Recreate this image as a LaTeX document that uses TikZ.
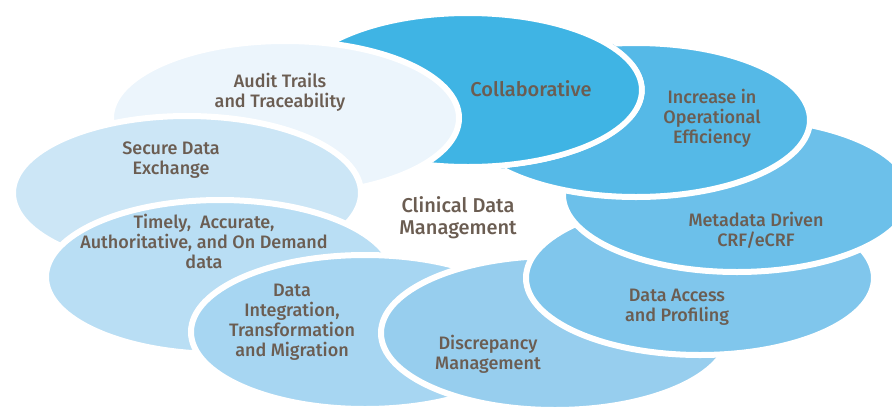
\documentclass[tikz,border=0pt]{standalone}
\usepackage{fontspec}
\setmainfont{Fira Sans}[UprightFont=* Medium]
\usetikzlibrary{shapes.geometric}

\definecolor{txtbrown}{HTML}{6B5D52}
\definecolor{cAudit}{HTML}{ECF5FC}
\definecolor{cSecure}{HTML}{CCE6F6}
\definecolor{cTimely}{HTML}{B9DEF4}
\definecolor{cInteg}{HTML}{A7D6F2}
\definecolor{cDiscr}{HTML}{97CEEE}
\definecolor{cAccess}{HTML}{80C6EC}
\definecolor{cMeta}{HTML}{6CC0EA}
\definecolor{cIncr}{HTML}{55B9E7}
\definecolor{cCollab}{HTML}{3FB4E4}

\tikzset{
  petal/.style={ellipse, inner sep=0pt, minimum width=348pt, minimum height=154pt,
    draw=white, line width=6pt, fill=#1},
  lbl/.style={align=center, text=txtbrown, font=\fontsize{18}{20}\selectfont}
}

\begin{document}
\begin{tikzpicture}[x=1pt, y=-1pt]
  \useasboundingbox (0,0) rectangle (892,408);

  % petals, each one above its clockwise neighbour
  \node [petal=cIncr](incr) at (636,120) {};
  \node [petal=cCollab](collab) at (468,90) {};
  \node [petal=cAudit](audit) at (285,118) {};
  \node [petal=cSecure](secure) at (187,193) {};
  \node [petal=cTimely](timely) at (220,277) {};
  \node [petal=cInteg](integ) at (365,332) {};
  \node [petal=cDiscr](discr) at (555,333) {};
  \node [petal=cAccess](access) at (700,278) {};
  \node [petal=cMeta](meta) at (737,195) {};
  % close the ring: increase over metadata, outside collaborative
  \begin{scope}[even odd rule]
    \clip (0,0) rectangle (892,408)
      (collab.center) ellipse [x radius=177pt, y radius=80pt];
    \node [petal=cIncr] at (incr.center) {};
  \end{scope}

  % texts
  \node [lbl](tAudit) at (280,92) {Audit Trails\\and Traceability};
  \node [lbl, font=\fontsize{20}{22}\selectfont](tCollab) at (531,89) {Collaborative};
  \node [lbl](tIncr) at (712,118) {Increase in\\Operational\\Efficiency};
  \node [lbl](tSecure) at (171,160) {Secure Data\\Exchange};
  \node [lbl, font=\fontsize{20}{22}\selectfont](tCenter) at (458,218) {Clinical Data\\Management};
  \node [lbl](tMeta) at (756,230) {Metadata Driven\\CRF/eCRF};
  \node [lbl](tTimely) at (204,241) {Timely,\ \ Accurate,\\Authoritative, and On Demand\\data};
  \node [lbl](tAccess) at (677,307) {Data Access\\and Profiling};
  \node [lbl](tInteg) at (292,322) {Data\\Integration,\\Transformation\\and Migration};
  \node [lbl](tDiscr) at (488,354) {Discrepancy\\Management};
\end{tikzpicture}
\end{document}
